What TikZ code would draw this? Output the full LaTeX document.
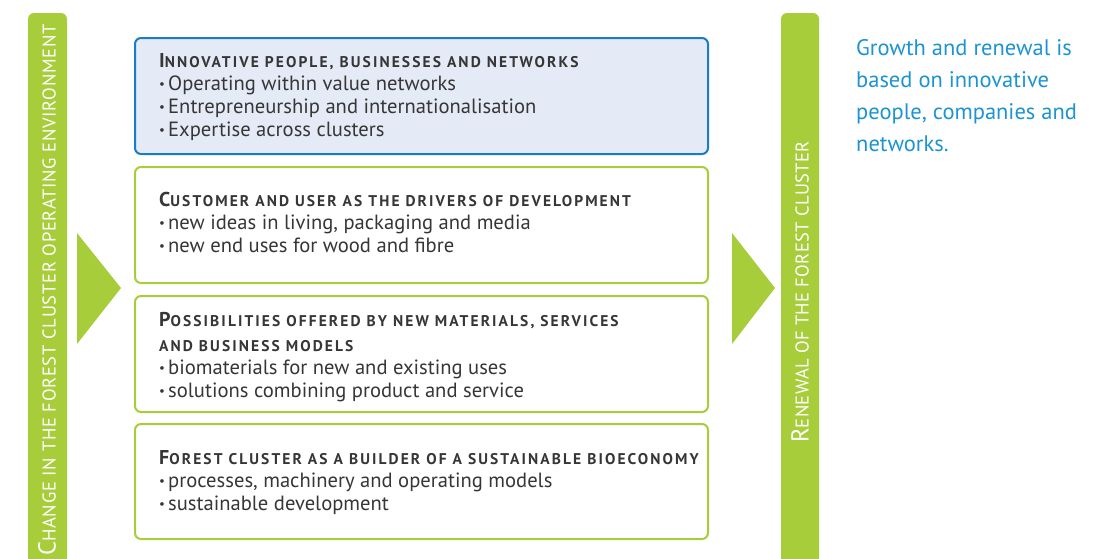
\documentclass[tikz,border=0pt]{standalone}
\usepackage{fontspec}
\setmainfont{PT Sans}
\newfontfamily\barfont[LetterSpace=4]{PT Sans}
\newfontfamily\rbarfont[LetterSpace=2]{PT Sans}
\newfontfamily\ttlfont[LetterSpace=13.5]{PT Sans}
\definecolor{lgreen}{HTML}{A8CD3A}
\definecolor{dtext}{HTML}{363636}
\definecolor{bborder}{HTML}{1A7CC6}
\definecolor{bfill}{HTML}{E4EAF6}
\definecolor{rblue}{HTML}{1C93D2}
\newcommand\tsc[2]{{\ttlfont\bfseries\fontsize{20}{20}\selectfont #1}{\ttlfont\bfseries\fontsize{15.5}{20}\selectfont #2}}
\newcommand\bsc[2]{{\fontsize{24.5}{24}\selectfont #1}{\fontsize{18.5}{24}\selectfont #2}}
\newcommand\bul{\makebox[9pt][l]{\raisebox{1.5pt}{\fontsize{13}{13}\selectfont •}}}
\tikzset{
  greenbox/.style={draw=lgreen, line width=2pt, rounded corners=6pt, fill=white},
  bluebox/.style={draw=bborder, line width=2pt, rounded corners=6pt, fill=bfill},
  ttl/.style={anchor=base west, inner sep=0pt, text=dtext},
  itm/.style={anchor=base west, inner sep=0pt, text=dtext, font=\fontsize{20.6}{23}\selectfont},
  bartxt/.style={rotate=90, anchor=west, inner sep=0pt, text=white, font=\barfont},
  side/.style={anchor=base west, inner sep=0pt, text=rblue, font=\fontsize{22.5}{32}\selectfont},
  tri/.style={fill=lgreen}
}
\begin{document}
\begin{tikzpicture}[x=1pt,y=-1pt]
\useasboundingbox (0,0) rectangle (1113,558);
\begin{scope}
\clip (0,0) rectangle (1113,558);
\fill[lgreen, rounded corners=6pt] (28,13) rectangle (67,590);
\fill[lgreen, rounded corners=6pt] (781,13) rectangle (819,590);
\end{scope}
\node[bartxt] (lbar) at (47,556) {\bsc{C}{HANGE IN THE FOREST CLUSTER OPERATING ENVIRONMENT}};
\node[bartxt, font=\rbarfont] (rbar) at (800,443) {\bsc{R}{ENEWAL OF THE FOREST CLUSTER}};
\fill[tri] (77,233) -- (121,288) -- (77,344) -- cycle;
\fill[tri] (732,233) -- (775,288) -- (732,344) -- cycle;
% boxes
\draw[bluebox] (135,38) rectangle (708,154);
\draw[greenbox] (135,167) rectangle (708,283);
\draw[greenbox] (135,296) rectangle (708,412);
\draw[greenbox] (135,424) rectangle (708,539);
% box 1
\node[ttl] (t1) at (159,67) {\tsc{I}{NNOVATIVE PEOPLE, BUSINESSES AND NETWORKS}};
\node[itm] (a1) at (159,90) {\bul Operating within value networks};
\node[itm] (a2) at (159,113) {\bul Entrepreneurship and internationalisation};
\node[itm] (a3) at (159,136) {\bul Expertise across clusters};
% box 2
\node[ttl] (t2) at (159,206) {\tsc{C}{USTOMER AND USER AS THE DRIVERS OF DEVELOPMENT}};
\node[itm] (b1) at (159,229) {\bul new ideas in living, packaging and media};
\node[itm] (b2) at (159,252) {\bul new end uses for wood and fibre};
% box 3
\node[ttl] (t3) at (159,326) {\tsc{P}{OSSIBILITIES OFFERED BY NEW MATERIALS, SERVICES}};
\node[ttl] (t3b) at (159,351) {\tsc{}{AND BUSINESS MODELS}};
\node[itm] (c1) at (159,374) {\bul biomaterials for new and existing uses};
\node[itm] (c2) at (159,397) {\bul solutions combining product and service};
% box 4
\node[ttl] (t4) at (159,464) {\tsc{F}{OREST CLUSTER AS A BUILDER OF A SUSTAINABLE BIOECONOMY}};
\node[itm] (d1) at (159,487) {\bul processes, machinery and operating models};
\node[itm] (d2) at (159,510) {\bul sustainable development};
% side text
\node[side] (s1) at (856,55) {Growth and renewal is};
\node[side] (s2) at (856,87) {based on innovative};
\node[side] (s3) at (856,119) {people, companies and};
\node[side] (s4) at (856,151) {networks.};
\end{tikzpicture}
\end{document}
